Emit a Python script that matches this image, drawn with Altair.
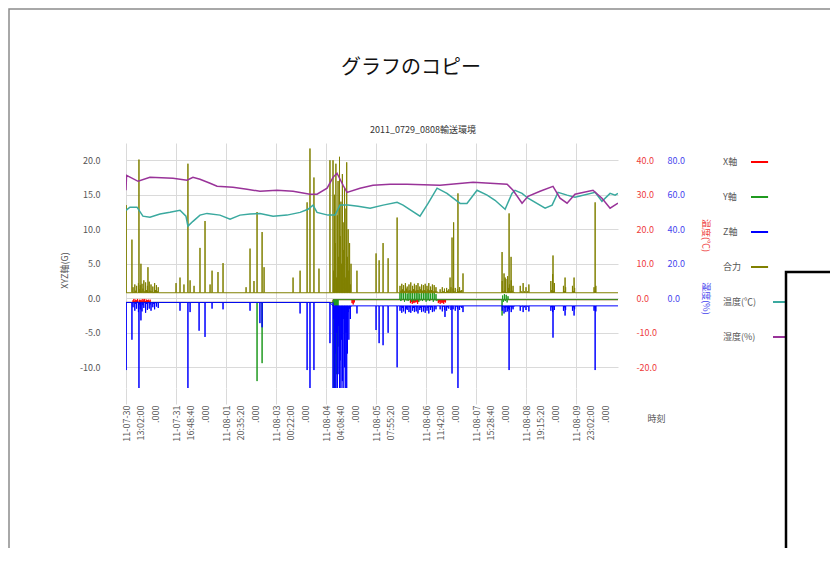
import altair as alt
import pandas as pd

FONT = "Noto Sans CJK JP"

# ---------------- axis / time settings ----------------
START = "2011-07-30 13:02:00"
END_HOURS = 273.3
tick_labels = ["2011-07-30 13:02:00", "2011-07-31 16:48:40", "2011-08-01 20:35:20",
               "2011-08-03 00:22:00", "2011-08-04 04:08:40", "2011-08-05 07:55:20",
               "2011-08-06 11:42:00", "2011-08-07 15:28:40", "2011-08-08 19:15:20",
               "2011-08-09 23:02:00"]
g_ticks = [-10, -5, 0, 5, 10, 15, 20]
temp_ticks = [-20, -10, 0, 10, 20, 30, 40]
hum_ticks = [0, 20, 40, 60, 80]

series_names = ["X軸", "Y軸", "Z軸", "合力", "温度(℃)", "湿度(%)"]
series_colors = ["#ff0000", "#1f9a1f", "#0000ff", "#808000", "#3aa99f", "#993399"]

# ---------------- temperature / humidity (hours from start) ----------------
temp_hours = [0.0, 2.2, 6.1, 9.4, 13.3, 18.9, 24.4, 30.0, 33.3, 34.4, 37.2, 41.1, 45.0, 52.2,
              57.8, 63.3, 68.9, 74.4, 81.7, 89.4, 96.7, 101.1, 103.9, 106.1, 112.2, 116.1,
              118.9, 123.3, 128.9, 135.6, 142.8, 150.6, 153.9, 163.3, 167.8, 172.8, 178.3,
              185.6, 189.4, 195.0, 200.6, 205.0, 210.6, 214.4, 216.1, 220.0, 223.3, 232.8,
              236.7, 240.0, 245.0, 249.4, 260.6, 264.4, 268.9, 271.7, 273.3]
temp_values = [25.5, 26.4, 26.4, 23.8, 23.5, 24.4, 24.9, 25.5, 23.8, 20.9, 22.3, 24.1, 24.6,
               24.1, 22.9, 24.1, 24.4, 24.6, 23.8, 24.1, 24.9, 25.8, 27.0, 24.9, 24.1, 24.1,
               27.0, 27.0, 26.7, 26.1, 27.0, 27.8, 27.0, 23.8, 27.5, 31.9, 30.4, 27.5, 27.5,
               31.3, 29.9, 28.4, 25.8, 30.4, 31.3, 30.4, 29.0, 26.1, 27.0, 30.7, 29.9, 29.3,
               30.7, 28.1, 30.4, 29.9, 30.4]

hum_hours = [0.0, 0.3, 6.7, 13.3, 26.1, 33.9, 37.2, 41.1, 46.7, 50.6, 59.4, 67.2, 74.4, 83.9,
             92.8, 102.2, 106.1, 111.7, 115.0, 117.2, 120.6, 122.8, 130.0, 137.2, 146.7,
             156.1, 174.4, 192.8, 211.7, 215.0, 220.0, 223.3, 230.0, 237.2, 241.1, 245.0,
             249.4, 259.4, 264.4, 268.9, 273.3]
hum_values = [62.6, 71.3, 67.8, 70.1, 69.6, 68.4, 70.1, 69.0, 66.7, 64.9, 64.3, 63.2, 62.0,
              62.6, 62.0, 60.3, 60.3, 63.8, 70.1, 72.5, 65.5, 61.4, 63.8, 65.5, 66.1, 66.1,
              65.5, 67.2, 66.1, 62.6, 55.1, 59.1, 62.0, 64.9, 58.0, 55.1, 60.3, 62.6, 58.0,
              52.2, 55.1]

# ---------------- acceleration series: baseline, spikes (hour, G), bursts ----------------
x_base = [(0.0, -0.6), (115.0, -0.2)]
x_spikes = [(125.6, -0.7), (126.2, -0.9), (126.8, -0.6)]
x_bands = [
    (3.9, 0.5, [-0.3, -0.1, -0.4, -0.2, -0.3, -0.1, -0.5, -0.2, -0.3, -0.2, -0.4, -0.1,
                -0.3, -0.1, -0.4, -0.2, -0.3, -0.2, -0.4, -0.2]),
    (158.0, 0.5, [-0.7, -0.5, -0.8, -0.6, -0.7, -0.5, -0.6, -0.5, -0.8, -0.5]),
    (173.5, 0.5, [-0.7, -0.5, -0.8, -0.5, -0.7, -0.6, -0.8, -0.5, -0.6]),
]

y_base = [(0.0, -0.6), (115.0, -0.2)]
y_spikes = [(72.8, -12.0), (75.6, -9.4), (208.9, -2.5)]
y_bands = [
    (115.4, 0.4, [-13.5, -1.0, -13.5, -4.0, -11.0, -2.0, -7.0]),
    (152.2, 0.5, [0.8, -0.4, 1.1, -0.2, 0.9, -0.5, 1.2, -0.3, 0.7, -0.4, 1.0, -0.2, 1.1, -0.5,
                  0.8, -0.3, 1.0, -0.4, 0.9, -0.2, 1.2, -0.5, 0.7, -0.3, 1.0, -0.4, 0.9, -0.2,
                  1.1, -0.5, 0.8, -0.3, 1.2, -0.4, 0.7, -0.2, 1.0, -0.5, 0.9, -0.3, 0.6, -0.4]),
    (209.2, 0.5, [0.4, -0.5, 0.6, -0.4, 0.5, -0.6, 0.3]),
]

z_base = [(0.0, -0.6), (115.0, -1.1)]
z_spikes = [(0.1, -10.4), (3.3, -6.0), (7.2, -13.5), (8.3, -3.2), (30.0, -1.8), (34.4, -13.5),
            (35.6, -2.0), (40.6, -4.7), (43.9, -5.6), (47.8, -1.5), (53.9, -1.6), (68.9, -1.8),
            (74.4, -3.6), (75.6, -4.2), (96.7, -2.2), (100.6, -10.4), (102.2, -13.5),
            (104.4, -10.4), (113.3, -6.5), (128.3, -2.2), (138.9, -4.6), (140.6, -6.5),
            (142.8, -6.8), (145.6, -5.0), (150.6, -10.0), (177.2, -2.7), (181.1, -10.9),
            (184.4, -13.5), (187.2, -2.0), (212.8, -10.4), (237.2, -5.7), (243.9, -2.5),
            (248.9, -2.5), (260.6, -10.4)]
z_bands = [
    (3.9, 0.5, [-1.3, -0.6, -1.8, -0.8, -1.5, -0.5, -2.0, -0.9, -1.6, -0.7, -1.9, -1.0, -1.4,
                -0.6, -2.1, -0.8, -1.7, -0.7, -1.5, -0.9, -1.8, -0.6, -1.3, -0.8, -1.6, -0.7,
                -1.2, -0.6, -1.4]),
    (115.0, 0.4, [-13.5, -3.0, -13.5, -8.0, -13.5, -5.0, -13.5, -11.0, -4.0, -13.5, -9.0,
                  -13.5, -6.0, -12.0, -13.5, -3.0, -10.0, -13.5, -5.0, -13.5, -8.0, -2.0,
                  -6.0, -1.5, -3.0, -1.2]),
    (152.2, 0.5, [-1.8, -1.2, -2.1, -1.4, -1.9, -1.1, -2.2, -1.5, -1.7, -1.2, -2.0, -1.3, -2.1,
                  -1.1, -1.8, -1.4, -2.0, -1.2, -1.9, -1.3, -2.2, -1.1, -1.7, -1.4, -2.0, -1.2,
                  -1.9, -1.3, -2.1, -1.1, -1.8, -1.4, -2.2, -1.2, -1.7, -1.3, -2.0, -1.1, -1.9,
                  -1.2, -1.6, -1.1]),
    (174.5, 0.6, [-1.6, -1.1, -1.9, -1.2, -1.7, -1.1, -1.8, -1.3, -1.5, -1.1, -1.7, -1.2,
                  -1.6, -1.1, -1.8, -1.2, -1.5, -1.1, -1.7, -1.2, -1.4]),
    (209.0, 0.5, [-1.8, -1.2, -2.2, -1.4, -2.0, -1.3, -1.9, -1.5, -1.7, -1.2, -2.0, -1.3,
                  -1.6, -1.2]),
    (219.0, 0.8, [-1.8, -1.2, -2.0, -1.3, -1.7, -1.2, -1.9]),
    (236.0, 0.5, [-1.8, -1.3, -2.0, -1.2, -1.7]),
    (243.0, 0.6, [-1.8, -1.3, -1.7]),
    (248.0, 0.6, [-1.8, -1.3, -1.6]),
    (260.0, 0.5, [-1.8, -1.3, -1.9]),
]

r_base = [(0.0, 0.8)]
r_spikes = [(0.1, 13.5), (3.3, 8.5), (7.2, 20.1), (8.3, 5.0), (12.2, 4.5), (27.8, 2.2),
            (30.0, 3.0), (32.2, 2.0), (34.4, 19.5), (35.6, 2.6), (37.8, 1.8), (41.1, 7.3),
            (43.9, 11.2), (46.7, 2.0), (47.8, 4.0), (51.1, 3.8), (53.9, 5.1), (66.7, 1.6),
            (68.9, 7.2), (71.1, 2.5), (72.8, 12.5), (75.6, 9.6), (76.7, 4.5), (92.8, 3.0),
            (96.7, 4.0), (100.6, 13.9), (102.2, 21.7), (104.4, 17.5), (107.2, 4.3),
            (113.3, 20.0), (128.3, 4.0), (138.9, 6.5), (140.6, 5.5), (142.8, 8.0),
            (145.6, 5.8), (150.6, 11.7), (180.0, 3.0), (181.1, 8.8), (182.0, 11.0),
            (184.4, 15.2), (187.2, 3.6), (208.9, 6.7), (210.6, 3.0), (212.8, 12.3),
            (213.9, 6.0), (237.2, 6.2), (243.9, 3.0), (248.9, 3.0), (260.6, 13.9)]
r_bands = [
    (3.9, 0.5, [1.6, 0.9, 2.0, 1.1, 1.8, 0.8, 2.2, 1.3, 1.9, 1.0, 2.1, 1.4, 2.6, 1.0, 2.3, 1.2,
                1.8, 0.9, 2.4, 1.1, 2.0, 1.0, 1.7, 0.9, 2.2, 1.2, 1.9, 1.0, 1.6]),
    (115.0, 0.4, [20.0, 4.0, 15.0, 8.0, 19.5, 3.0, 12.0, 17.0, 6.0, 20.5, 9.0, 14.0, 5.0, 18.0,
                  11.0, 7.0, 16.0, 3.0, 13.0, 19.7, 6.0, 10.0, 4.0, 8.0, 2.0, 5.0]),
    (152.2, 0.5, [1.8, 1.1, 2.1, 1.3, 1.9, 1.0, 2.2, 1.4, 1.7, 1.1, 2.0, 1.2, 2.3, 1.0, 1.8, 1.3,
                  2.1, 1.1, 1.9, 1.2, 2.2, 1.0, 1.7, 1.3, 2.0, 1.1, 1.9, 1.2, 2.1, 1.0, 1.8, 1.3,
                  2.2, 1.1, 1.7, 1.2, 2.0, 1.0, 1.9, 1.1, 1.6, 1.0]),
    (174.5, 0.6, [1.3, 0.9, 1.6, 1.0, 1.4, 0.9, 1.5, 1.1, 1.3, 0.9, 1.6, 1.0, 1.4, 1.0, 1.5,
                  0.9, 1.3, 1.0, 1.6, 1.1, 1.2]),
    (209.0, 0.5, [2.5, 1.0, 3.6, 1.2, 2.8, 0.9, 3.2, 1.5, 2.0, 1.0, 2.6, 1.1, 1.8, 0.9]),
    (219.0, 0.8, [1.8, 1.0, 2.2, 1.0, 1.6, 1.0, 2.0]),
    (236.0, 0.5, [2.5, 1.2, 3.5, 1.0, 2.2]),
    (243.0, 0.6, [1.8, 1.0, 1.6]),
    (248.0, 0.6, [1.8, 1.0, 1.5]),
    (260.0, 0.5, [1.6, 1.0, 1.8]),
]

# ---------------- build tables ----------------
start_ms = pd.Timestamp(START, tz="UTC").value // 10**6
end_ms = start_ms + END_HOURS * 3600000
tick_ms = [pd.Timestamp(s, tz="UTC").value // 10**6 for s in tick_labels]


def to_ms(h):
    return start_ms + h * 3600000


def base_at(steps, h):
    b = steps[0][1]
    for hs, bv in steps:
        if h >= hs:
            b = bv
    return b


def spiky(steps, spikes, bands):
    events = list(spikes)
    for h0, step, vals in bands:
        events += [(h0 + i * step, v) for i, v in enumerate(vals)]
    pts = [(0.0, base_at(steps, 0.0)), (END_HOURS, base_at(steps, END_HOURS))]
    for hs, bv in steps[1:]:
        pts += [(hs - 0.02, base_at(steps, hs - 0.02)), (hs, bv)]
    for h, v in events:
        b = base_at(steps, h)
        pts += [(h - 0.05, b), (h, v), (h + 0.05, b)]
    pts.sort()
    return pd.DataFrame({"t": [to_ms(h) for h, _ in pts], "v": [v for _, v in pts]})


df_x = spiky(x_base, x_spikes, x_bands)
df_y = spiky(y_base, y_spikes, y_bands)
df_z = spiky(z_base, z_spikes, z_bands)
df_r = spiky(r_base, r_spikes, r_bands)
df_temp = pd.DataFrame({"t": [to_ms(h) for h in temp_hours], "v": temp_values})
df_hum = pd.DataFrame({"t": [to_ms(h) for h in hum_hours], "v": hum_values})

# ---------------- scales & axes ----------------
x_scale = alt.Scale(type="utc", domain=[start_ms, end_ms], nice=False)
g_scale = alt.Scale(domain=[-13.0, 22.5], nice=False, zero=False)
temp_scale = alt.Scale(domain=[-26.0, 45.0], nice=False, zero=False)
hum_scale = alt.Scale(domain=[-52.0, 90.0], nice=False, zero=False)

NUM = "replace(format(datum.value, '.1f'), '\u2212', '-')"
GRID = "#dadada"

x_axis = alt.Axis(
    values=tick_ms,
    labelExpr="[utcFormat(datum.value, '%y-%m-%d'), utcFormat(datum.value, '%H:%M:%S'), '.000']",
    labelAngle=-90, labelLineHeight=14.5, labelFlush=False, labelOverlap=False,
    labelPadding=1, grid=True, gridColor=GRID, ticks=True, tickColor=GRID, tickSize=16,
    domain=False, title="時刻", titleX=530, titleY=30, titleAngle=0,
    titleAlign="center", titleBaseline="middle",
)
g_axis = alt.Axis(
    orient="left", values=g_ticks, labelExpr=NUM, grid=True, gridColor=GRID, ticks=False,
    domain=False, labelPadding=26, title="XYZ軸(G)", titleX=-62, titleY=127, titleAngle=-90,
    titleAlign="center", titleBaseline="middle",
)
temp_axis = alt.Axis(
    orient="right", values=temp_ticks, labelExpr=NUM, grid=False, ticks=False, domain=False,
    labelPadding=18, labelColor="#ee3b3b", title="温度(℃)", titleColor="#ee3b3b",
    titleX=87, titleY=92, titleAngle=90, titleAlign="center", titleBaseline="middle",
)
hum_axis = alt.Axis(
    orient="right", offset=31, values=hum_ticks, labelExpr=NUM, grid=False, ticks=False,
    domain=False, labelPadding=18, labelColor="#4646ee", title="湿度(%)",
    titleColor="#4646ee", titleX=56, titleY=155, titleAngle=90, titleAlign="center",
    titleBaseline="middle",
)


def g_layer(df, color, with_axes=False):
    return alt.Chart(df).mark_line(color=color, strokeWidth=1, clip=True).encode(
        x=alt.X("t:T", scale=x_scale, axis=x_axis if with_axes else None),
        y=alt.Y("v:Q", scale=g_scale, axis=g_axis if with_axes else None),
    )


layer_x = g_layer(df_x, series_colors[0], with_axes=True)
layer_y = g_layer(df_y, series_colors[1])
layer_z = g_layer(df_z, series_colors[2])
layer_r = g_layer(df_r, series_colors[3])

layer_temp = alt.Chart(df_temp).mark_line(color=series_colors[4], strokeWidth=1.5, clip=True).encode(
    x=alt.X("t:T", scale=x_scale, axis=None),
    y=alt.Y("v:Q", scale=temp_scale, axis=temp_axis),
)
layer_hum = alt.Chart(df_hum).mark_line(color=series_colors[5], strokeWidth=1.5, clip=True).encode(
    x=alt.X("t:T", scale=x_scale, axis=None),
    y=alt.Y("v:Q", scale=hum_scale, axis=hum_axis),
)

# ---------------- legend (label followed by line sample) ----------------
legend_df = pd.DataFrame({"label": series_names})
legend_y = alt.Y("label:N", scale=alt.Scale(type="point", domain=series_names, range=[19, 194],
                                            padding=0), axis=None)
legend_color = alt.Color("label:N", scale=alt.Scale(domain=series_names, range=series_colors),
                         legend=None)
legend_text = alt.Chart(legend_df).mark_text(
    align="left", baseline="middle", font=FONT, fontSize=9, color="#555555"
).encode(x=alt.value(597), y=legend_y, text="label:N")
legend_line = alt.Chart(legend_df).mark_rule(strokeWidth=2).transform_calculate(
    s0="length(datum.label) + 1.82", s1="length(datum.label) + 4.15"
).encode(
    x=alt.X("s0:Q", scale=alt.Scale(domain=[0, 10], range=[597, 670.3]), axis=None),
    x2="s1:Q",
    y=legend_y,
    color=legend_color,
)

# ---------------- titles & window decorations ----------------
title_text = alt.Chart(pd.DataFrame({"s": ["グラフのコピー"]})).mark_text(
    font=FONT, fontSize=20, color="#111111", align="center", baseline="middle"
).encode(text="s:N", x=alt.value(285), y=alt.value(-75))
subtitle_text = alt.Chart(pd.DataFrame({"s": ["2011_0729_0808輸送環境"]})).mark_text(
    font=FONT, fontSize=9, color="#333333", align="center", baseline="middle"
).encode(text="s:N", x=alt.value(297), y=alt.value(-13))

frame = alt.Chart(pd.DataFrame({"k": [0]})).mark_rect(
    fillOpacity=0, stroke="#8c8c8c", strokeWidth=1.5
).encode(x=alt.value(-117), x2=alt.value(760), y=alt.value(-134), y2=alt.value(460))
black_box = alt.Chart(pd.DataFrame({"k": [0]})).mark_rect(
    fill="white", stroke="black", strokeWidth=2.5
).encode(x=alt.value(660), x2=alt.value(760), y=alt.value(129), y2=alt.value(460))

chart = alt.layer(
    frame, layer_x, layer_y, layer_z, layer_r, layer_temp, layer_hum,
    legend_line, legend_text, title_text, subtitle_text, black_box,
).resolve_scale(
    x="independent", y="independent", color="independent"
).properties(
    width=492, height=245,
    autosize=alt.AutoSizeParams(type="none"),
    padding={"left": 118, "top": 135, "right": 212, "bottom": 160},
).configure_view(
    strokeWidth=0
).configure_axis(
    labelFont=FONT, titleFont=FONT, labelFontSize=9, titleFontSize=9,
    titleFontWeight="normal", labelColor="#555555", titleColor="#555555",
)

chart.save("out.html", embed_options={"renderer": "svg", "actions": False})
